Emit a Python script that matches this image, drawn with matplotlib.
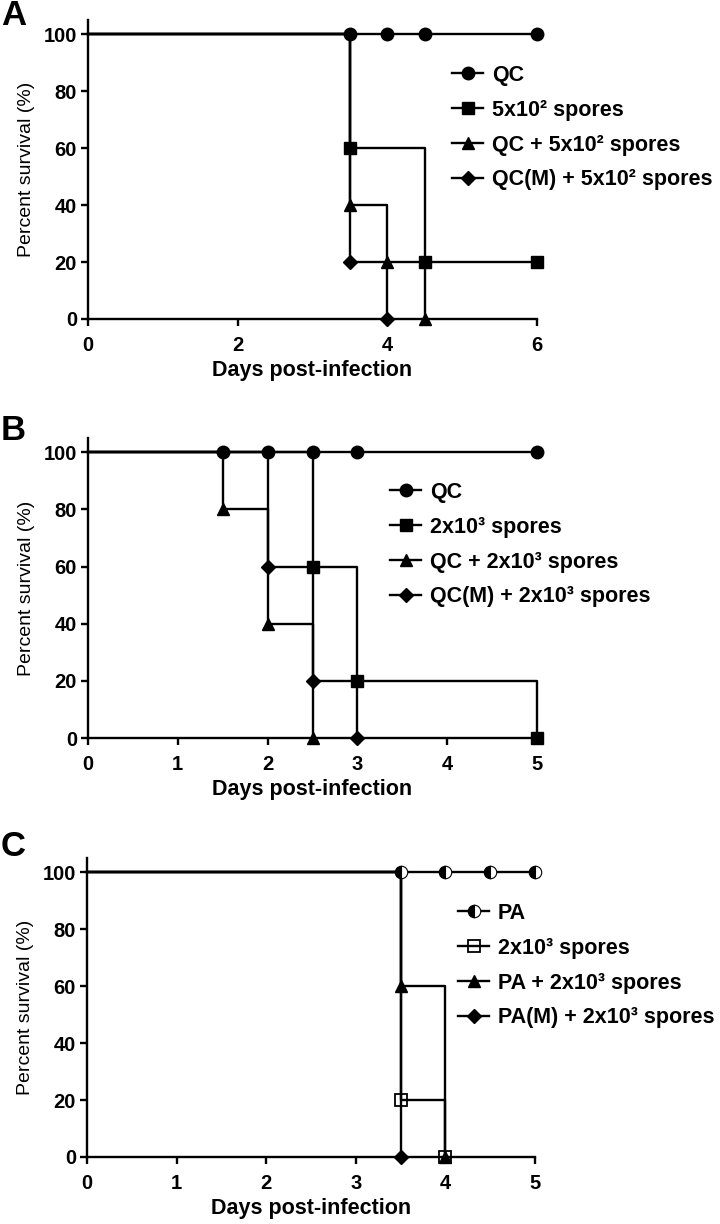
import matplotlib
matplotlib.use("Agg")
import matplotlib.pyplot as plt
from matplotlib.lines import Line2D

plt.rcParams['font.family'] = ['Liberation Sans', 'DejaVu Sans']

# ---------------- data ----------------
# Panel A
a_labels = ["QC", "5x10² spores", "QC + 5x10² spores", "QC(M) + 5x10² spores"]
a_qc_t = [0, 3.5, 4, 4.5, 6]
a_qc_s = [100, 100, 100, 100, 100]
a_sp_t = [0, 3.5, 4.5, 6]
a_sp_s = [100, 60, 20, 20]
a_qcsp_t = [0, 3.5, 4, 4.5]
a_qcsp_s = [100, 40, 20, 0]
a_qcm_t = [0, 3.5, 4]
a_qcm_s = [100, 20, 0]
a_xticks = [0, 2, 4, 6]

# Panel B
b_labels = ["QC", "2x10³ spores", "QC + 2x10³ spores", "QC(M) + 2x10³ spores"]
b_qc_t = [0, 1.5, 2, 2.5, 3, 5]
b_qc_s = [100, 100, 100, 100, 100, 100]
b_sp_t = [0, 2.5, 3, 5]
b_sp_s = [100, 60, 20, 0]
b_qcsp_t = [0, 1.5, 2, 2.5]
b_qcsp_s = [100, 80, 40, 0]
b_qcm_t = [0, 2, 2.5, 3]
b_qcm_s = [100, 60, 20, 0]
b_xticks = [0, 1, 2, 3, 4, 5]

# Panel C
c_labels = ["PA", "2x10³ spores", "PA + 2x10³ spores", "PA(M) + 2x10³ spores"]
c_pa_t = [0, 3.5, 4, 4.5, 5]
c_pa_s = [100, 100, 100, 100, 100]
c_sp_t = [0, 3.5, 4]
c_sp_s = [100, 20, 0]
c_pasp_t = [0, 3.5, 4]
c_pasp_s = [100, 60, 0]
c_pam_t = [0, 3.5]
c_pam_s = [100, 0]
c_xticks = [0, 1, 2, 3, 4, 5]

y_ticks = [0, 20, 40, 60, 80, 100]

# ---------------- styles ----------------
LW = 1.7
TICKFS = 14.5
LEGFS = 15.5

circle = dict(marker='o', markersize=9, markerfacecolor='black', markeredgecolor='black')
half = dict(marker='o', markersize=9, markerfacecolor='black', markeredgecolor='black',
            fillstyle='left', markerfacecoloralt='white', markeredgewidth=0.8)
square = dict(marker='s', markersize=8, markerfacecolor='black', markeredgecolor='black')
osquare = dict(marker='s', markersize=8.5, markerfacecolor='none', markeredgecolor='black',
               markeredgewidth=1.3)
tri = dict(marker='^', markersize=8.5, markerfacecolor='black', markeredgecolor='black')
diam = dict(marker='D', markersize=7.5, markerfacecolor='black', markeredgecolor='black')

fig = plt.figure(figsize=(7.2, 12.24), dpi=100)

W, H = 720.0, 1224.0


def make_axes(left_px, top_px, bottom_px, right_px):
    return fig.add_axes([left_px / W, 1 - bottom_px / H,
                         (right_px - left_px) / W, (bottom_px - top_px) / H])


def style_axes(ax, xmax, xticks):
    ax.set_xlim(0, xmax)
    ax.set_ylim(0, 105)
    ax.set_xticks(xticks)
    ax.set_yticks(y_ticks)
    for s in ['top', 'right']:
        ax.spines[s].set_visible(False)
    for s in ['left', 'bottom']:
        ax.spines[s].set_linewidth(1.7)
    ax.tick_params(direction='out', length=5, width=1.7, labelsize=TICKFS, pad=3)
    ax.tick_params(axis='x', pad=7.5)
    for lab in ax.get_xticklabels() + ax.get_yticklabels():
        lab.set_fontweight('bold')
    ax.set_ylabel("Percent survival (%)", fontsize=14, labelpad=6)
    ax.set_xlabel("Days post-infection", fontsize=15.5, fontweight='bold', labelpad=3)


def draw_series(ax, t, s, mk):
    ax.step(t, s, where='post', color='black', lw=LW, zorder=2, clip_on=False)
    ax.plot(t[1:], s[1:], linestyle='none', zorder=3, clip_on=False, **mk)


def add_legend(ax, labels, styles, x_px, y_px):
    handles = [Line2D([], [], color='black', lw=LW, **st) for st in styles]
    leg = ax.legend(handles, labels, loc='upper left',
                    bbox_to_anchor=(x_px / W, 1 - y_px / H),
                    bbox_transform=fig.transFigure, frameon=False,
                    fontsize=LEGFS, handlelength=1.45, handletextpad=0.4,
                    labelspacing=0.64, borderpad=0, borderaxespad=0)
    for txt in leg.get_texts():
        txt.set_fontweight('bold')
    return leg


# ---------------- panel A ----------------
axA = make_axes(88, 20, 319, 537)
draw_series(axA, a_qc_t, a_qc_s, circle)
draw_series(axA, a_sp_t, a_sp_s, square)
draw_series(axA, a_qcsp_t, a_qcsp_s, tri)
draw_series(axA, a_qcm_t, a_qcm_s, diam)
style_axes(axA, 6, a_xticks)
add_legend(axA, a_labels, [circle, square, tri, diam], 452, 65)

# ---------------- panel B ----------------
axB = make_axes(88, 438, 738, 537)
draw_series(axB, b_qc_t, b_qc_s, circle)
draw_series(axB, b_sp_t, b_sp_s, square)
draw_series(axB, b_qcsp_t, b_qcsp_s, tri)
draw_series(axB, b_qcm_t, b_qcm_s, diam)
style_axes(axB, 5, b_xticks)
add_legend(axB, b_labels, [circle, square, tri, diam], 390, 482)

# ---------------- panel C ----------------
axC = make_axes(87, 858, 1157, 535)
draw_series(axC, c_pa_t, c_pa_s, half)
draw_series(axC, c_sp_t, c_sp_s, osquare)
draw_series(axC, c_pasp_t, c_pasp_s, tri)
draw_series(axC, c_pam_t, c_pam_s, diam)
style_axes(axC, 5, c_xticks)
add_legend(axC, c_labels, [half, osquare, tri, diam], 458, 903)

# panel letters
for letter, ypx in [("A", -1), ("B", 414), ("C", 830)]:
    fig.text(1 / W, 1 - ypx / H, letter, fontsize=25, fontweight='bold', va='top', ha='left')

fig.savefig("out.png", dpi=100)
